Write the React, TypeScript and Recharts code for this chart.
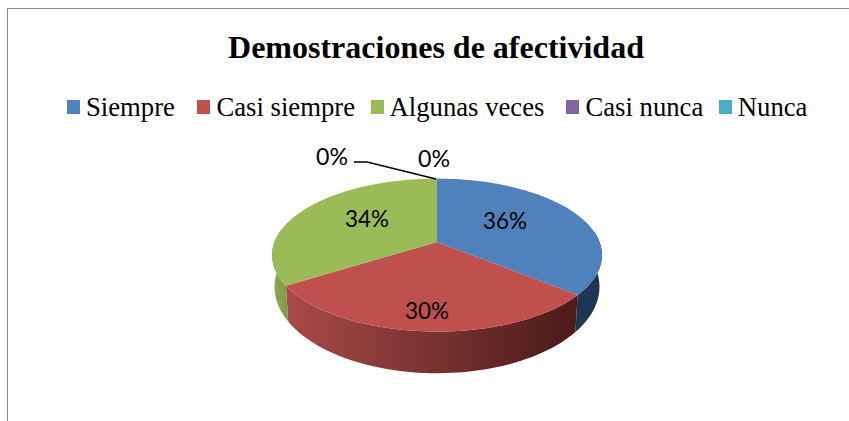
import { PieChart, Pie, Cell, Legend } from 'recharts'

const categories = ['Siempre', 'Casi siempre', 'Algunas veces', 'Casi nunca', 'Nunca']
const values = [36, 30, 34, 0, 0]
const colors = ['#4F81BD', '#C0504D', '#9BBB59', '#8064A2', '#4BACC6']
const wallFrom = ['#1E3654', '#A84A48', '#8CAA50', '#8064A2', '#4BACC6']
const wallTo = ['#1E3654', '#4A1A19', '#7E9A48', '#8064A2', '#4BACC6']

const title = 'Demostraciones de afectividad'

// label centres relative to the apex of the pie
const labelOffsets = [
  [68, -23],
  [-10, 67],
  [-70, -25],
  [-105, -87],
  [-3, -85],
]
const legendGaps = [22.5, 15.5, 22, 15.5, 0]

const data = categories.map((name, i) => ({ name, value: values[i] }))

const TILT = 0.171
const Y_SCALE = 0.45
const X_SCALE = 0.985

// perspective projection of a point on the unit circle, angle in degrees
function rimPoint(angle: number, cx: number, cy: number, r: number) {
  const rad = (angle * Math.PI) / 180
  const u = Math.cos(rad)
  const v = -Math.sin(rad)
  const w = 1 - TILT * v
  return { x: cx + (r * X_SCALE * u) / w, y: cy + (r * Y_SCALE * v) / w, v }
}

function bottomPoint(angle: number, cx: number, cy: number, r: number) {
  const p = rimPoint(angle, cx, cy, r)
  const dy = p.y - cy
  return { x: cx + (p.x - cx) * 0.985, y: p.y + 30 + 0.13 * dy }
}

function arcAngles(start: number, end: number) {
  const steps = Math.max(2, Math.ceil(Math.abs(end - start) / 2))
  return Array.from({ length: steps + 1 }, (_, i) => start + ((end - start) * i) / steps)
}

const toPath = (pts: { x: number; y: number }[]) =>
  pts.map((p, i) => `${i ? 'L' : 'M'}${p.x.toFixed(2)},${p.y.toFixed(2)}`).join(' ') + ' Z'

function Slice(props: any) {
  const { cx, cy, outerRadius, startAngle, endAngle, fill, index } = props
  if (Math.abs(endAngle - startAngle) < 0.01) return null
  const angles = arcAngles(startAngle, endAngle)
  const rim = angles.map((a) => rimPoint(a, cx, cy, outerRadius))
  const front = angles.filter((a) => rimPoint(a, cx, cy, outerRadius).v > -TILT)
  const wallPts = [
    ...front.map((a) => rimPoint(a, cx, cy, outerRadius)),
    ...front.map((a) => bottomPoint(a, cx, cy, outerRadius)).reverse(),
  ]
  const xs = wallPts.map((p) => p.x)
  const id = `wall-${index}`
  return (
    <g>
      {front.length > 1 && (
        <>
          <defs>
            <linearGradient id={id} gradientUnits="userSpaceOnUse" x1={Math.min(...xs)} x2={Math.max(...xs)} y1={0} y2={0}>
              <stop offset="0%" stopColor={wallFrom[index]} />
              <stop offset="100%" stopColor={wallTo[index]} />
            </linearGradient>
          </defs>
          <path d={toPath(wallPts)} fill={`url(#${id})`} />
        </>
      )}
      <path d={toPath([{ x: cx, y: cy }, ...rim])} fill={fill} />
    </g>
  )
}

function renderLabel(props: any) {
  const { cx, cy, index, percent } = props
  const [dx, dy] = labelOffsets[index]
  const x = cx + dx
  const y = cy + dy
  const label = `${Math.round(percent * 100)}%`
  return (
    <g key={index}>
      {index === 3 && (
        <polyline
          points={`${x + 22},${y + 7} ${x + 35},${y + 7} ${cx - 1},${cy - 63}`}
          fill="none"
          stroke="#000"
          strokeWidth={1.4}
        />
      )}
      <text
        x={x}
        y={y}
        textAnchor="middle"
        dominantBaseline="central"
        fontFamily="Lato"
        fontSize={24}
        textLength={label.length === 2 ? 32 : 44}
        lengthAdjust="spacingAndGlyphs"
        fill="#000"
      >
        {label}
      </text>
    </g>
  )
}

function renderLegend(props: any) {
  return (
    <div style={{ display: 'flex', paddingLeft: 67, fontFamily: '"Liberation Serif"', fontSize: 26.7, lineHeight: '30px', whiteSpace: 'nowrap' }}>
      {props.payload.map((item: any, i: number) => (
        <div key={item.value} style={{ display: 'flex', alignItems: 'center', marginRight: legendGaps[i] }}>
          <span style={{ width: 13, height: 14, background: item.color, marginRight: 6 }} />
          <span>{item.value}</span>
        </div>
      ))}
    </div>
  )
}

export default function App() {
  return (
    <div style={{ position: 'absolute', left: 0, top: 0, width: 849, height: 421, background: '#fff', overflow: 'hidden' }}>
      <div style={{ position: 'absolute', left: 7, top: 8, width: 860, height: 430, borderLeft: '1.5px solid #868686', borderTop: '1.5px solid #868686' }} />
      <PieChart width={849} height={421} margin={{ top: 0, right: 0, bottom: 0, left: 0 }} style={{ position: 'absolute', left: 0, top: 0 }}>
        <text x={436} y={47} textAnchor="middle" dominantBaseline="central" fontFamily="Liberation Serif" fontWeight="bold" fontSize={32} fill="#000">
          {title}
        </text>
        <Legend content={renderLegend} itemSorter={null} verticalAlign="top" wrapperStyle={{ left: 0, top: 92, width: 849 }} />
        <Pie
          data={data}
          dataKey="value"
          nameKey="name"
          cx={437}
          cy={212}
          outerRadius={165}
          startAngle={90}
          endAngle={-270}
          stroke="none"
          shape={Slice}
          label={renderLabel}
          labelLine={false}
          isAnimationActive={false}
        >
          {categories.map((name, i) => (
            <Cell key={name} fill={colors[i]} />
          ))}
        </Pie>
      </PieChart>
    </div>
  )
}
